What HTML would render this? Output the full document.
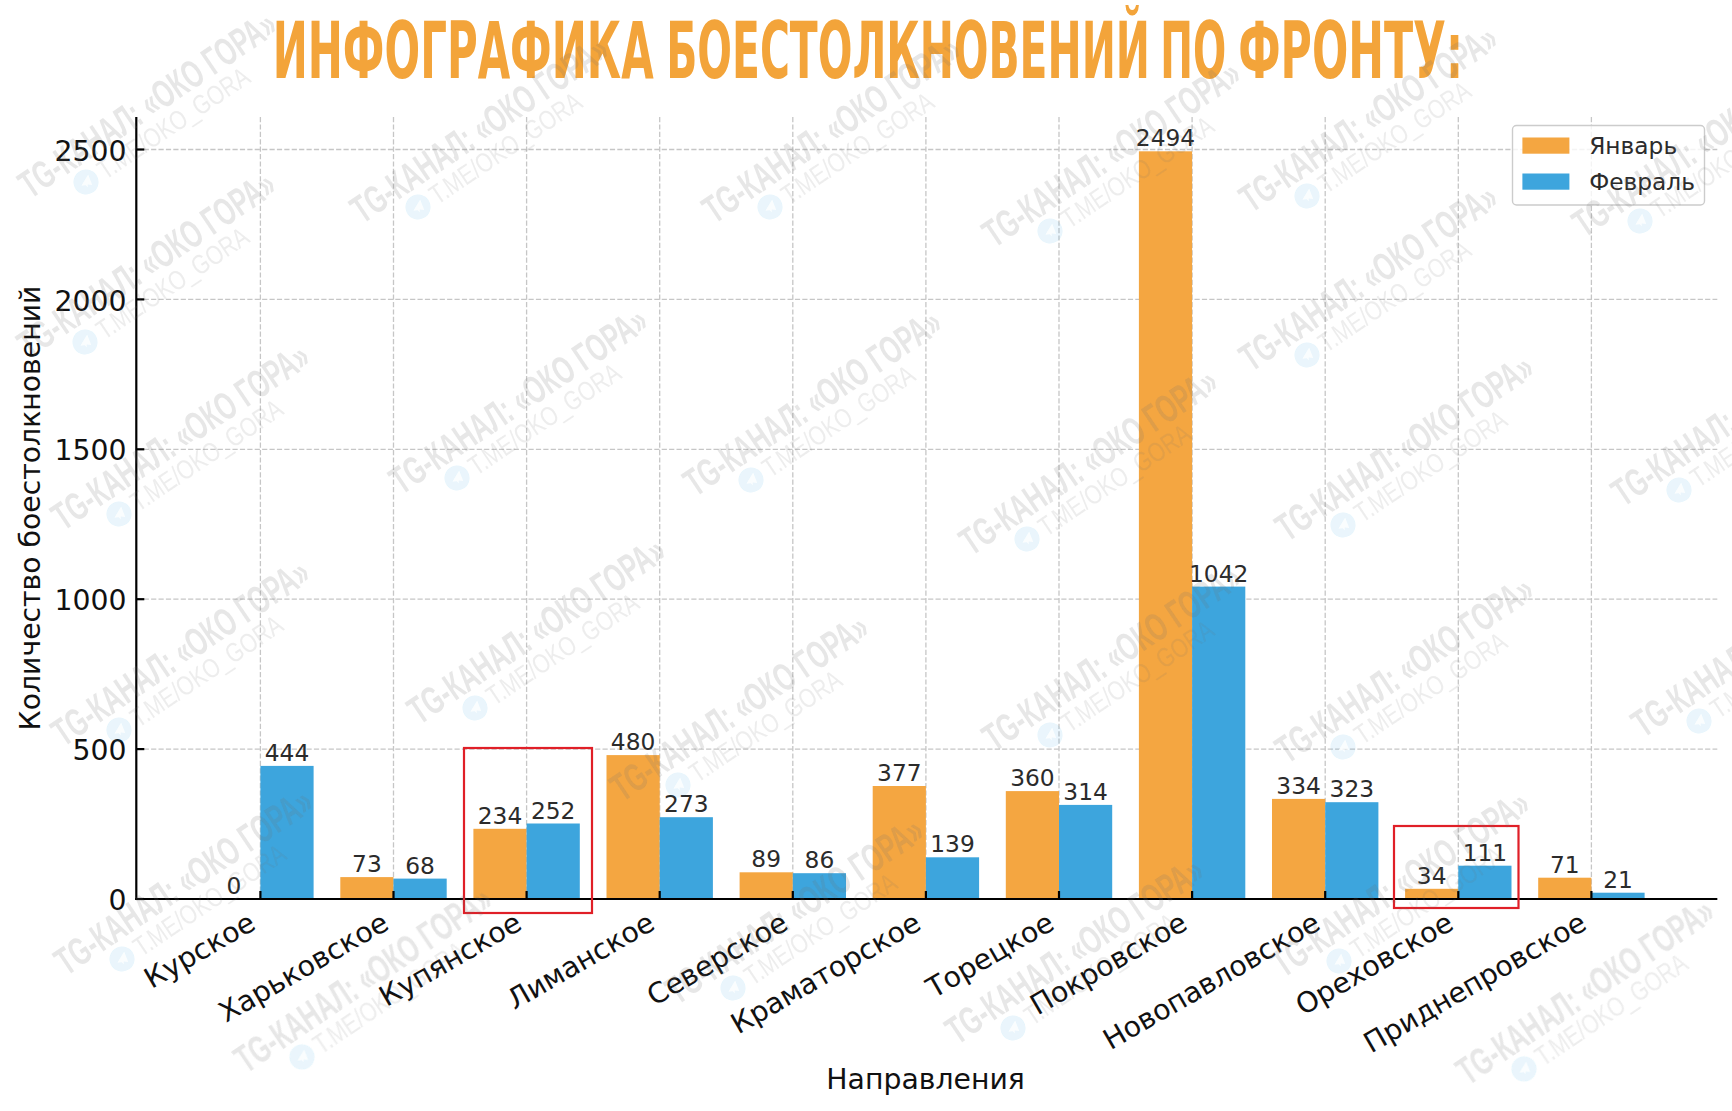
<!DOCTYPE html>
<html lang="ru"><head><meta charset="utf-8"><title>Инфографика боестолкновений по фронту</title>
<style>html,body{margin:0;padding:0;background:#fff;overflow:hidden}svg{display:block;font-family:"DejaVu Sans","Liberation Sans",sans-serif}.t{font-family:"Liberation Sans","DejaVu Sans",sans-serif;font-weight:700}</style></head><body>
<svg width="1732" height="1111" viewBox="0 0 1732 1111">
<rect width="1732" height="1111" fill="#fff"/>
<g stroke="#c6c6c6" stroke-width="1.3" stroke-dasharray="5.2 2.2" fill="none">
<line x1="260.4" y1="117.0" x2="260.4" y2="899.0"/>
<line x1="393.5" y1="117.0" x2="393.5" y2="899.0"/>
<line x1="526.6" y1="117.0" x2="526.6" y2="899.0"/>
<line x1="659.7" y1="117.0" x2="659.7" y2="899.0"/>
<line x1="792.8" y1="117.0" x2="792.8" y2="899.0"/>
<line x1="925.9" y1="117.0" x2="925.9" y2="899.0"/>
<line x1="1059.0" y1="117.0" x2="1059.0" y2="899.0"/>
<line x1="1192.1" y1="117.0" x2="1192.1" y2="899.0"/>
<line x1="1325.2" y1="117.0" x2="1325.2" y2="899.0"/>
<line x1="1458.3" y1="117.0" x2="1458.3" y2="899.0"/>
<line x1="1591.4" y1="117.0" x2="1591.4" y2="899.0"/>
<line x1="136.3" y1="899.0" x2="1717.3" y2="899.0"/>
<line x1="136.3" y1="749.1" x2="1717.3" y2="749.1"/>
<line x1="136.3" y1="599.2" x2="1717.3" y2="599.2"/>
<line x1="136.3" y1="449.3" x2="1717.3" y2="449.3"/>
<line x1="136.3" y1="299.4" x2="1717.3" y2="299.4"/>
<line x1="136.3" y1="149.5" x2="1717.3" y2="149.5"/>
</g>
<g>
<rect x="260.4" y="765.9" width="53.2" height="133.1" fill="#3DA5DD"/>
<rect x="340.3" y="877.1" width="53.2" height="21.9" fill="#F4A641"/>
<rect x="393.5" y="878.6" width="53.2" height="20.4" fill="#3DA5DD"/>
<rect x="473.4" y="828.8" width="53.2" height="70.2" fill="#F4A641"/>
<rect x="526.6" y="823.5" width="53.2" height="75.5" fill="#3DA5DD"/>
<rect x="606.5" y="755.1" width="53.2" height="143.9" fill="#F4A641"/>
<rect x="659.7" y="817.2" width="53.2" height="81.8" fill="#3DA5DD"/>
<rect x="739.6" y="872.3" width="53.2" height="26.7" fill="#F4A641"/>
<rect x="792.8" y="873.2" width="53.2" height="25.8" fill="#3DA5DD"/>
<rect x="872.7" y="786.0" width="53.2" height="113.0" fill="#F4A641"/>
<rect x="925.9" y="857.3" width="53.2" height="41.7" fill="#3DA5DD"/>
<rect x="1005.8" y="791.1" width="53.2" height="107.9" fill="#F4A641"/>
<rect x="1059.0" y="804.9" width="53.2" height="94.1" fill="#3DA5DD"/>
<rect x="1138.9" y="151.3" width="53.2" height="747.7" fill="#F4A641"/>
<rect x="1192.1" y="586.6" width="53.2" height="312.4" fill="#3DA5DD"/>
<rect x="1272.0" y="798.9" width="53.2" height="100.1" fill="#F4A641"/>
<rect x="1325.2" y="802.2" width="53.2" height="96.8" fill="#3DA5DD"/>
<rect x="1405.1" y="888.8" width="53.2" height="10.2" fill="#F4A641"/>
<rect x="1458.3" y="865.7" width="53.2" height="33.3" fill="#3DA5DD"/>
<rect x="1538.2" y="877.7" width="53.2" height="21.3" fill="#F4A641"/>
<rect x="1591.4" y="892.7" width="53.2" height="6.3" fill="#3DA5DD"/>
</g>
<g stroke="#000" stroke-width="2.2" fill="none"><line x1="136.3" y1="117.0" x2="136.3" y2="900.1"/><line x1="135.20000000000002" y1="899.0" x2="1717.3" y2="899.0"/>
<line x1="260.4" y1="899.0" x2="260.4" y2="891.0"/>
<line x1="393.5" y1="899.0" x2="393.5" y2="891.0"/>
<line x1="526.6" y1="899.0" x2="526.6" y2="891.0"/>
<line x1="659.7" y1="899.0" x2="659.7" y2="891.0"/>
<line x1="792.8" y1="899.0" x2="792.8" y2="891.0"/>
<line x1="925.9" y1="899.0" x2="925.9" y2="891.0"/>
<line x1="1059.0" y1="899.0" x2="1059.0" y2="891.0"/>
<line x1="1192.1" y1="899.0" x2="1192.1" y2="891.0"/>
<line x1="1325.2" y1="899.0" x2="1325.2" y2="891.0"/>
<line x1="1458.3" y1="899.0" x2="1458.3" y2="891.0"/>
<line x1="1591.4" y1="899.0" x2="1591.4" y2="891.0"/>
<line x1="136.3" y1="899.0" x2="144.3" y2="899.0"/>
<line x1="136.3" y1="749.1" x2="144.3" y2="749.1"/>
<line x1="136.3" y1="599.2" x2="144.3" y2="599.2"/>
<line x1="136.3" y1="449.3" x2="144.3" y2="449.3"/>
<line x1="136.3" y1="299.4" x2="144.3" y2="299.4"/>
<line x1="136.3" y1="149.5" x2="144.3" y2="149.5"/>
</g>
<g font-size="28.3" fill="#111" text-anchor="end">
<text x="126.5" y="910.1">0</text>
<text x="126.5" y="760.2">500</text>
<text x="126.5" y="610.3">1000</text>
<text x="126.5" y="460.4">1500</text>
<text x="126.5" y="310.5">2000</text>
<text x="126.5" y="160.6">2500</text>
</g>
<g font-size="23.3" fill="#2b2b2b" text-anchor="middle">
<text x="233.8" y="894.0">0</text>
<text x="287.0" y="760.9">444</text>
<text x="366.9" y="872.1">73</text>
<text x="420.1" y="873.6">68</text>
<text x="500.0" y="823.8">234</text>
<text x="553.2" y="818.5">252</text>
<text x="633.1" y="750.1">480</text>
<text x="686.3" y="812.2">273</text>
<text x="766.2" y="867.3">89</text>
<text x="819.4" y="868.2">86</text>
<text x="899.3" y="781.0">377</text>
<text x="952.5" y="852.3">139</text>
<text x="1032.4" y="786.1">360</text>
<text x="1085.6" y="799.9">314</text>
<text x="1165.5" y="146.3">2494</text>
<text x="1218.7" y="581.6">1042</text>
<text x="1298.6" y="793.9">334</text>
<text x="1351.8" y="797.2">323</text>
<text x="1431.7" y="883.8">34</text>
<text x="1484.9" y="860.7">111</text>
<text x="1564.8" y="872.7">71</text>
<text x="1618.0" y="887.7">21</text>
</g>
<g font-size="28.3" fill="#111" text-anchor="end">
<text transform="translate(257.4 928.2) rotate(-30)">Курское</text>
<text transform="translate(390.5 928.2) rotate(-30)">Харьковское</text>
<text transform="translate(523.6 928.2) rotate(-30)">Купянское</text>
<text transform="translate(656.7 928.2) rotate(-30)">Лиманское</text>
<text transform="translate(789.8 928.2) rotate(-30)">Северское</text>
<text transform="translate(922.9 928.2) rotate(-30)">Краматорское</text>
<text transform="translate(1056.0 928.2) rotate(-30)">Торецкое</text>
<text transform="translate(1189.1 928.2) rotate(-30)">Покровское</text>
<text transform="translate(1322.2 928.2) rotate(-30)">Новопавловское</text>
<text transform="translate(1455.3 928.2) rotate(-30)">Ореховское</text>
<text transform="translate(1588.4 928.2) rotate(-30)">Приднепровское</text>
</g>
<text x="925.6" y="1089.2" font-size="28.3" fill="#111" text-anchor="middle">Направления</text>
<text transform="translate(39.5 508) rotate(-90)" font-size="28.3" fill="#111" text-anchor="middle">Количество боестолкновений</text>
<g fill="none" stroke="#E01F27" stroke-width="2.2"><rect x="464" y="748" width="128" height="165"/><rect x="1394" y="826" width="124.5" height="82"/></g>
<rect x="1512.5" y="125.5" width="192" height="79.5" rx="4" fill="#fff" fill-opacity="0.8" stroke="#ccc" stroke-width="1.4"/>
<rect x="1522.4" y="137.5" width="47" height="16.2" fill="#F4A641"/><rect x="1522.4" y="173.5" width="47" height="16.2" fill="#3DA5DD"/>
<g font-size="23.3" fill="#2b2b2b"><text x="1589.2" y="153.8">Январь</text><text x="1589.2" y="189.8">Февраль</text></g>
<g font-family="'DejaVu Sans','Liberation Sans',sans-serif" font-weight="700" font-size="78.1" fill="#F3A43A">
<text transform="translate(272.64 78.2) scale(0.5373 1)">ИНФОГРАФИКА</text>
<text transform="translate(666.24 78.2) scale(0.5227 1)">БОЕСТОЛКНОВЕНИЙ</text>
<text transform="translate(1160.37 78.2) scale(0.4999 1)">ПО</text>
<text transform="translate(1238.24 78.2) scale(0.5468 1)">ФРОНТУ:</text>
</g>
<defs><filter id="wb" x="-5%" y="-5%" width="110%" height="110%"><feGaussianBlur stdDeviation="0.6"/></filter></defs>
<g class="t" filter="url(#wb)">
<g transform="translate(86 182) rotate(-34)"><circle r="12.5" fill="#2AA5E0" fill-opacity="0.105"/><path d="M-6 0.5 L6 -5 L3.5 6 L0 3 L-1.5 5.5 L-2 2.5 Z" fill="#fff" fill-opacity="0.8"/><text x="-56" y="-16.8" font-size="39" fill="#6e6e6e" fill-opacity="0.17" textLength="301" lengthAdjust="spacingAndGlyphs">TG-КАНАЛ: «ОКО ГОРА»</text><text x="17" y="9.3" font-size="27" font-weight="400" fill="#6e6e6e" fill-opacity="0.125" textLength="177" lengthAdjust="spacingAndGlyphs">T.ME/OKO_GORA</text></g>
<g transform="translate(85 342) rotate(-34)"><circle r="12.5" fill="#2AA5E0" fill-opacity="0.105"/><path d="M-6 0.5 L6 -5 L3.5 6 L0 3 L-1.5 5.5 L-2 2.5 Z" fill="#fff" fill-opacity="0.8"/><text x="-56" y="-16.8" font-size="39" fill="#6e6e6e" fill-opacity="0.17" textLength="301" lengthAdjust="spacingAndGlyphs">TG-КАНАЛ: «ОКО ГОРА»</text><text x="17" y="9.3" font-size="27" font-weight="400" fill="#6e6e6e" fill-opacity="0.125" textLength="177" lengthAdjust="spacingAndGlyphs">T.ME/OKO_GORA</text></g>
<g transform="translate(119 514) rotate(-34)"><circle r="12.5" fill="#2AA5E0" fill-opacity="0.105"/><path d="M-6 0.5 L6 -5 L3.5 6 L0 3 L-1.5 5.5 L-2 2.5 Z" fill="#fff" fill-opacity="0.8"/><text x="-56" y="-16.8" font-size="39" fill="#6e6e6e" fill-opacity="0.17" textLength="301" lengthAdjust="spacingAndGlyphs">TG-КАНАЛ: «ОКО ГОРА»</text><text x="17" y="9.3" font-size="27" font-weight="400" fill="#6e6e6e" fill-opacity="0.125" textLength="177" lengthAdjust="spacingAndGlyphs">T.ME/OKO_GORA</text></g>
<g transform="translate(119 730) rotate(-34)"><circle r="12.5" fill="#2AA5E0" fill-opacity="0.105"/><path d="M-6 0.5 L6 -5 L3.5 6 L0 3 L-1.5 5.5 L-2 2.5 Z" fill="#fff" fill-opacity="0.8"/><text x="-56" y="-16.8" font-size="39" fill="#6e6e6e" fill-opacity="0.17" textLength="301" lengthAdjust="spacingAndGlyphs">TG-КАНАЛ: «ОКО ГОРА»</text><text x="17" y="9.3" font-size="27" font-weight="400" fill="#6e6e6e" fill-opacity="0.125" textLength="177" lengthAdjust="spacingAndGlyphs">T.ME/OKO_GORA</text></g>
<g transform="translate(122 959) rotate(-34)"><circle r="12.5" fill="#2AA5E0" fill-opacity="0.105"/><path d="M-6 0.5 L6 -5 L3.5 6 L0 3 L-1.5 5.5 L-2 2.5 Z" fill="#fff" fill-opacity="0.8"/><text x="-56" y="-16.8" font-size="39" fill="#6e6e6e" fill-opacity="0.17" textLength="301" lengthAdjust="spacingAndGlyphs">TG-КАНАЛ: «ОКО ГОРА»</text><text x="17" y="9.3" font-size="27" font-weight="400" fill="#6e6e6e" fill-opacity="0.125" textLength="177" lengthAdjust="spacingAndGlyphs">T.ME/OKO_GORA</text></g>
<g transform="translate(302 1057) rotate(-34)"><circle r="12.5" fill="#2AA5E0" fill-opacity="0.105"/><path d="M-6 0.5 L6 -5 L3.5 6 L0 3 L-1.5 5.5 L-2 2.5 Z" fill="#fff" fill-opacity="0.8"/><text x="-56" y="-16.8" font-size="39" fill="#6e6e6e" fill-opacity="0.17" textLength="301" lengthAdjust="spacingAndGlyphs">TG-КАНАЛ: «ОКО ГОРА»</text><text x="17" y="9.3" font-size="27" font-weight="400" fill="#6e6e6e" fill-opacity="0.125" textLength="177" lengthAdjust="spacingAndGlyphs">T.ME/OKO_GORA</text></g>
<g transform="translate(418 207) rotate(-34)"><circle r="12.5" fill="#2AA5E0" fill-opacity="0.105"/><path d="M-6 0.5 L6 -5 L3.5 6 L0 3 L-1.5 5.5 L-2 2.5 Z" fill="#fff" fill-opacity="0.8"/><text x="-56" y="-16.8" font-size="39" fill="#6e6e6e" fill-opacity="0.17" textLength="301" lengthAdjust="spacingAndGlyphs">TG-КАНАЛ: «ОКО ГОРА»</text><text x="17" y="9.3" font-size="27" font-weight="400" fill="#6e6e6e" fill-opacity="0.125" textLength="177" lengthAdjust="spacingAndGlyphs">T.ME/OKO_GORA</text></g>
<g transform="translate(457 478) rotate(-34)"><circle r="12.5" fill="#2AA5E0" fill-opacity="0.105"/><path d="M-6 0.5 L6 -5 L3.5 6 L0 3 L-1.5 5.5 L-2 2.5 Z" fill="#fff" fill-opacity="0.8"/><text x="-56" y="-16.8" font-size="39" fill="#6e6e6e" fill-opacity="0.17" textLength="301" lengthAdjust="spacingAndGlyphs">TG-КАНАЛ: «ОКО ГОРА»</text><text x="17" y="9.3" font-size="27" font-weight="400" fill="#6e6e6e" fill-opacity="0.125" textLength="177" lengthAdjust="spacingAndGlyphs">T.ME/OKO_GORA</text></g>
<g transform="translate(475 708) rotate(-34)"><circle r="12.5" fill="#2AA5E0" fill-opacity="0.105"/><path d="M-6 0.5 L6 -5 L3.5 6 L0 3 L-1.5 5.5 L-2 2.5 Z" fill="#fff" fill-opacity="0.8"/><text x="-56" y="-16.8" font-size="39" fill="#6e6e6e" fill-opacity="0.17" textLength="301" lengthAdjust="spacingAndGlyphs">TG-КАНАЛ: «ОКО ГОРА»</text><text x="17" y="9.3" font-size="27" font-weight="400" fill="#6e6e6e" fill-opacity="0.125" textLength="177" lengthAdjust="spacingAndGlyphs">T.ME/OKO_GORA</text></g>
<g transform="translate(770 207) rotate(-34)"><circle r="12.5" fill="#2AA5E0" fill-opacity="0.105"/><path d="M-6 0.5 L6 -5 L3.5 6 L0 3 L-1.5 5.5 L-2 2.5 Z" fill="#fff" fill-opacity="0.8"/><text x="-56" y="-16.8" font-size="39" fill="#6e6e6e" fill-opacity="0.17" textLength="301" lengthAdjust="spacingAndGlyphs">TG-КАНАЛ: «ОКО ГОРА»</text><text x="17" y="9.3" font-size="27" font-weight="400" fill="#6e6e6e" fill-opacity="0.125" textLength="177" lengthAdjust="spacingAndGlyphs">T.ME/OKO_GORA</text></g>
<g transform="translate(751 480) rotate(-34)"><circle r="12.5" fill="#2AA5E0" fill-opacity="0.105"/><path d="M-6 0.5 L6 -5 L3.5 6 L0 3 L-1.5 5.5 L-2 2.5 Z" fill="#fff" fill-opacity="0.8"/><text x="-56" y="-16.8" font-size="39" fill="#6e6e6e" fill-opacity="0.17" textLength="301" lengthAdjust="spacingAndGlyphs">TG-КАНАЛ: «ОКО ГОРА»</text><text x="17" y="9.3" font-size="27" font-weight="400" fill="#6e6e6e" fill-opacity="0.125" textLength="177" lengthAdjust="spacingAndGlyphs">T.ME/OKO_GORA</text></g>
<g transform="translate(678 785) rotate(-34)"><circle r="12.5" fill="#2AA5E0" fill-opacity="0.105"/><path d="M-6 0.5 L6 -5 L3.5 6 L0 3 L-1.5 5.5 L-2 2.5 Z" fill="#fff" fill-opacity="0.8"/><text x="-56" y="-16.8" font-size="39" fill="#6e6e6e" fill-opacity="0.17" textLength="301" lengthAdjust="spacingAndGlyphs">TG-КАНАЛ: «ОКО ГОРА»</text><text x="17" y="9.3" font-size="27" font-weight="400" fill="#6e6e6e" fill-opacity="0.125" textLength="177" lengthAdjust="spacingAndGlyphs">T.ME/OKO_GORA</text></g>
<g transform="translate(733 988) rotate(-34)"><circle r="12.5" fill="#2AA5E0" fill-opacity="0.105"/><path d="M-6 0.5 L6 -5 L3.5 6 L0 3 L-1.5 5.5 L-2 2.5 Z" fill="#fff" fill-opacity="0.8"/><text x="-56" y="-16.8" font-size="39" fill="#6e6e6e" fill-opacity="0.17" textLength="301" lengthAdjust="spacingAndGlyphs">TG-КАНАЛ: «ОКО ГОРА»</text><text x="17" y="9.3" font-size="27" font-weight="400" fill="#6e6e6e" fill-opacity="0.125" textLength="177" lengthAdjust="spacingAndGlyphs">T.ME/OKO_GORA</text></g>
<g transform="translate(1050 231) rotate(-34)"><circle r="12.5" fill="#2AA5E0" fill-opacity="0.105"/><path d="M-6 0.5 L6 -5 L3.5 6 L0 3 L-1.5 5.5 L-2 2.5 Z" fill="#fff" fill-opacity="0.8"/><text x="-56" y="-16.8" font-size="39" fill="#6e6e6e" fill-opacity="0.17" textLength="301" lengthAdjust="spacingAndGlyphs">TG-КАНАЛ: «ОКО ГОРА»</text><text x="17" y="9.3" font-size="27" font-weight="400" fill="#6e6e6e" fill-opacity="0.125" textLength="177" lengthAdjust="spacingAndGlyphs">T.ME/OKO_GORA</text></g>
<g transform="translate(1027 539) rotate(-34)"><circle r="12.5" fill="#2AA5E0" fill-opacity="0.105"/><path d="M-6 0.5 L6 -5 L3.5 6 L0 3 L-1.5 5.5 L-2 2.5 Z" fill="#fff" fill-opacity="0.8"/><text x="-56" y="-16.8" font-size="39" fill="#6e6e6e" fill-opacity="0.17" textLength="301" lengthAdjust="spacingAndGlyphs">TG-КАНАЛ: «ОКО ГОРА»</text><text x="17" y="9.3" font-size="27" font-weight="400" fill="#6e6e6e" fill-opacity="0.125" textLength="177" lengthAdjust="spacingAndGlyphs">T.ME/OKO_GORA</text></g>
<g transform="translate(1050 735) rotate(-34)"><circle r="12.5" fill="#2AA5E0" fill-opacity="0.105"/><path d="M-6 0.5 L6 -5 L3.5 6 L0 3 L-1.5 5.5 L-2 2.5 Z" fill="#fff" fill-opacity="0.8"/><text x="-56" y="-16.8" font-size="39" fill="#6e6e6e" fill-opacity="0.17" textLength="301" lengthAdjust="spacingAndGlyphs">TG-КАНАЛ: «ОКО ГОРА»</text><text x="17" y="9.3" font-size="27" font-weight="400" fill="#6e6e6e" fill-opacity="0.125" textLength="177" lengthAdjust="spacingAndGlyphs">T.ME/OKO_GORA</text></g>
<g transform="translate(1013 1028) rotate(-34)"><circle r="12.5" fill="#2AA5E0" fill-opacity="0.105"/><path d="M-6 0.5 L6 -5 L3.5 6 L0 3 L-1.5 5.5 L-2 2.5 Z" fill="#fff" fill-opacity="0.8"/><text x="-56" y="-16.8" font-size="39" fill="#6e6e6e" fill-opacity="0.17" textLength="301" lengthAdjust="spacingAndGlyphs">TG-КАНАЛ: «ОКО ГОРА»</text><text x="17" y="9.3" font-size="27" font-weight="400" fill="#6e6e6e" fill-opacity="0.125" textLength="177" lengthAdjust="spacingAndGlyphs">T.ME/OKO_GORA</text></g>
<g transform="translate(1307 196) rotate(-34)"><circle r="12.5" fill="#2AA5E0" fill-opacity="0.105"/><path d="M-6 0.5 L6 -5 L3.5 6 L0 3 L-1.5 5.5 L-2 2.5 Z" fill="#fff" fill-opacity="0.8"/><text x="-56" y="-16.8" font-size="39" fill="#6e6e6e" fill-opacity="0.17" textLength="301" lengthAdjust="spacingAndGlyphs">TG-КАНАЛ: «ОКО ГОРА»</text><text x="17" y="9.3" font-size="27" font-weight="400" fill="#6e6e6e" fill-opacity="0.125" textLength="177" lengthAdjust="spacingAndGlyphs">T.ME/OKO_GORA</text></g>
<g transform="translate(1307 355) rotate(-34)"><circle r="12.5" fill="#2AA5E0" fill-opacity="0.105"/><path d="M-6 0.5 L6 -5 L3.5 6 L0 3 L-1.5 5.5 L-2 2.5 Z" fill="#fff" fill-opacity="0.8"/><text x="-56" y="-16.8" font-size="39" fill="#6e6e6e" fill-opacity="0.17" textLength="301" lengthAdjust="spacingAndGlyphs">TG-КАНАЛ: «ОКО ГОРА»</text><text x="17" y="9.3" font-size="27" font-weight="400" fill="#6e6e6e" fill-opacity="0.125" textLength="177" lengthAdjust="spacingAndGlyphs">T.ME/OKO_GORA</text></g>
<g transform="translate(1343 525) rotate(-34)"><circle r="12.5" fill="#2AA5E0" fill-opacity="0.105"/><path d="M-6 0.5 L6 -5 L3.5 6 L0 3 L-1.5 5.5 L-2 2.5 Z" fill="#fff" fill-opacity="0.8"/><text x="-56" y="-16.8" font-size="39" fill="#6e6e6e" fill-opacity="0.17" textLength="301" lengthAdjust="spacingAndGlyphs">TG-КАНАЛ: «ОКО ГОРА»</text><text x="17" y="9.3" font-size="27" font-weight="400" fill="#6e6e6e" fill-opacity="0.125" textLength="177" lengthAdjust="spacingAndGlyphs">T.ME/OKO_GORA</text></g>
<g transform="translate(1343 747) rotate(-34)"><circle r="12.5" fill="#2AA5E0" fill-opacity="0.105"/><path d="M-6 0.5 L6 -5 L3.5 6 L0 3 L-1.5 5.5 L-2 2.5 Z" fill="#fff" fill-opacity="0.8"/><text x="-56" y="-16.8" font-size="39" fill="#6e6e6e" fill-opacity="0.17" textLength="301" lengthAdjust="spacingAndGlyphs">TG-КАНАЛ: «ОКО ГОРА»</text><text x="17" y="9.3" font-size="27" font-weight="400" fill="#6e6e6e" fill-opacity="0.125" textLength="177" lengthAdjust="spacingAndGlyphs">T.ME/OKO_GORA</text></g>
<g transform="translate(1339 961) rotate(-34)"><circle r="12.5" fill="#2AA5E0" fill-opacity="0.105"/><path d="M-6 0.5 L6 -5 L3.5 6 L0 3 L-1.5 5.5 L-2 2.5 Z" fill="#fff" fill-opacity="0.8"/><text x="-56" y="-16.8" font-size="39" fill="#6e6e6e" fill-opacity="0.17" textLength="301" lengthAdjust="spacingAndGlyphs">TG-КАНАЛ: «ОКО ГОРА»</text><text x="17" y="9.3" font-size="27" font-weight="400" fill="#6e6e6e" fill-opacity="0.125" textLength="177" lengthAdjust="spacingAndGlyphs">T.ME/OKO_GORA</text></g>
<g transform="translate(1524 1069) rotate(-34)"><circle r="12.5" fill="#2AA5E0" fill-opacity="0.105"/><path d="M-6 0.5 L6 -5 L3.5 6 L0 3 L-1.5 5.5 L-2 2.5 Z" fill="#fff" fill-opacity="0.8"/><text x="-56" y="-16.8" font-size="39" fill="#6e6e6e" fill-opacity="0.17" textLength="301" lengthAdjust="spacingAndGlyphs">TG-КАНАЛ: «ОКО ГОРА»</text><text x="17" y="9.3" font-size="27" font-weight="400" fill="#6e6e6e" fill-opacity="0.125" textLength="177" lengthAdjust="spacingAndGlyphs">T.ME/OKO_GORA</text></g>
<g transform="translate(1640 221) rotate(-34)"><circle r="12.5" fill="#2AA5E0" fill-opacity="0.105"/><path d="M-6 0.5 L6 -5 L3.5 6 L0 3 L-1.5 5.5 L-2 2.5 Z" fill="#fff" fill-opacity="0.8"/><text x="-56" y="-16.8" font-size="39" fill="#6e6e6e" fill-opacity="0.17" textLength="301" lengthAdjust="spacingAndGlyphs">TG-КАНАЛ: «ОКО ГОРА»</text><text x="17" y="9.3" font-size="27" font-weight="400" fill="#6e6e6e" fill-opacity="0.125" textLength="177" lengthAdjust="spacingAndGlyphs">T.ME/OKO_GORA</text></g>
<g transform="translate(1679 490) rotate(-34)"><circle r="12.5" fill="#2AA5E0" fill-opacity="0.105"/><path d="M-6 0.5 L6 -5 L3.5 6 L0 3 L-1.5 5.5 L-2 2.5 Z" fill="#fff" fill-opacity="0.8"/><text x="-56" y="-16.8" font-size="39" fill="#6e6e6e" fill-opacity="0.17" textLength="301" lengthAdjust="spacingAndGlyphs">TG-КАНАЛ: «ОКО ГОРА»</text><text x="17" y="9.3" font-size="27" font-weight="400" fill="#6e6e6e" fill-opacity="0.125" textLength="177" lengthAdjust="spacingAndGlyphs">T.ME/OKO_GORA</text></g>
<g transform="translate(1699 721) rotate(-34)"><circle r="12.5" fill="#2AA5E0" fill-opacity="0.105"/><path d="M-6 0.5 L6 -5 L3.5 6 L0 3 L-1.5 5.5 L-2 2.5 Z" fill="#fff" fill-opacity="0.8"/><text x="-56" y="-16.8" font-size="39" fill="#6e6e6e" fill-opacity="0.17" textLength="301" lengthAdjust="spacingAndGlyphs">TG-КАНАЛ: «ОКО ГОРА»</text><text x="17" y="9.3" font-size="27" font-weight="400" fill="#6e6e6e" fill-opacity="0.125" textLength="177" lengthAdjust="spacingAndGlyphs">T.ME/OKO_GORA</text></g>
</g>
</svg></body></html>
